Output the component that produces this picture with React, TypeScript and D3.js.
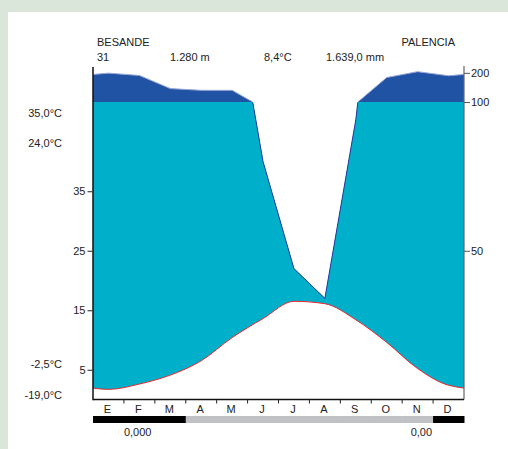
import { area, axisLeft, axisRight, curveLinear, curveMonotoneX, line, scaleLinear, select } from "d3";
import { useEffect, useRef } from "react";

const months = ["E", "F", "M", "A", "M", "J", "J", "A", "S", "O", "N", "D"];
const temperature = [1.7, 2.6, 4.1, 6.5, 10.4, 13.6, 16.5, 16.1, 13.4, 9.6, 5.2, 2.4];
const precipitation = [199, 191, 146, 140, 140, 80, 44, 34, 94, 184, 204, 190];
// 2 = helada segura (negro), 1 = helada probable (gris)
const frost = [2, 2, 2, 1, 1, 1, 1, 1, 1, 1, 1, 2];
const tempTicks = [5, 15, 25, 35];
const precipTicks = [50, 100, 200];
const headerLeft = ["BESANDE", "31", "1.280 m"];
const headerRight = ["PALENCIA", "8,4°C", "1.639,0 mm"];
const sideLabels = ["35,0°C", "24,0°C", "-2,5°C", "-19,0°C"];
const frostLabels = ["0,000", "0,00"];

const W = 508;
const H = 449;
const plot = { left: 93, right: 464, top: 67, bottom: 399.5 };
const FONT = "'Liberation Sans', Arial, sans-serif";

const x = scaleLinear().domain([0, 12]).range([plot.left, plot.right]);
const tY = scaleLinear().domain([0, 50]).range([plot.bottom, 102]);
const pY = scaleLinear().domain([0, 100, 220]).range([plot.bottom, 102, plot.top]);

// wrap december / january so the curves run to the plot edges
const wrap = (v: number[]) => [v[v.length - 1], ...v, v[0]];
const cx = (i: number) => x(i - 0.5);

const precipPoints = (() => {
  const v = wrap(precipitation);
  const pts: [number, number][] = [];
  for (let i = 0; i < v.length; i++) {
    pts.push([cx(i), v[i]]);
    if (i < v.length - 1 && (v[i] - 100) * (v[i + 1] - 100) < 0) {
      const t = (100 - v[i]) / (v[i + 1] - v[i]);
      pts.push([cx(i) + t * (cx(i + 1) - cx(i)), 100]);
    }
  }
  return pts;
})();
const tempPoints: [number, number][] = wrap(temperature).map((d, i) => [cx(i), d]);

const Axis = ({ kind, transform }: { kind: "left" | "right"; transform: string }) => {
  const ref = useRef<SVGGElement>(null);
  useEffect(() => {
    if (!ref.current) return;
    const ax =
      kind === "left"
        ? axisLeft(tY).tickValues(tempTicks).tickSize(5).tickSizeOuter(0).tickPadding(2)
        : axisRight(pY).tickValues(precipTicks).tickSize(6).tickSizeOuter(0).tickPadding(1);
    const g = select(ref.current).call(ax);
    g.select(".domain").remove();
    g.selectAll("text").style("font-family", FONT).style("font-size", "11px").attr("fill", "#222");
    g.selectAll("line").attr("stroke", kind === "left" ? "#222" : "#555");
  }, [kind]);
  return <g ref={ref} transform={transform} />;
};

const App = () => {
  const darkArea = area<[number, number]>()
    .curve(curveLinear)
    .x((d) => d[0])
    .y0(plot.bottom)
    .y1((d) => pY(d[1]));
  const wetArea = area<[number, number]>()
    .curve(curveLinear)
    .x((d) => d[0])
    .y0(plot.bottom)
    .y1((d) => pY(Math.min(d[1], 100)));
  const tempArea = area<[number, number]>()
    .curve(curveMonotoneX)
    .x((d) => d[0])
    .y0(plot.bottom)
    .y1((d) => tY(d[1]));
  const tempLine = line<[number, number]>()
    .curve(curveMonotoneX)
    .x((d) => d[0])
    .y((d) => tY(d[1]));
  const precipLine = line<[number, number]>()
    .x((d) => d[0])
    .y((d) => pY(d[1]));

  const step = x(1) - x(0);

  return (
    <svg width={W} height={H} style={{ position: "absolute", left: 0, top: 0 }} fontFamily={FONT}>
      <defs>
        <clipPath id="plotClip">
          <rect x={plot.left} y={plot.top - 5} width={plot.right - plot.left} height={plot.bottom - plot.top + 5} />
        </clipPath>
        <clipPath id="lowClip">
          <rect x={plot.left} y={102.5} width={plot.right - plot.left} height={plot.bottom - 102.5} />
        </clipPath>
        <clipPath id="highClip">
          <rect x={plot.left} y={plot.top - 5} width={plot.right - plot.left} height={102 - plot.top + 4} />
        </clipPath>
      </defs>
      <rect width={W} height={H} fill="#dbe6db" />
      <rect x={8} y={12} width={W - 8} height={H - 12} fill="#ffffff" />

      <g clipPath="url(#plotClip)">
        <path d={darkArea(precipPoints) ?? ""} fill="#2153a4" />
        <path d={wetArea(precipPoints) ?? ""} fill="#00afc9" />
        <path d={tempArea(tempPoints) ?? ""} fill="#ffffff" />
        <path d={precipLine(precipPoints) ?? ""} fill="none" stroke="#98a6d8" strokeWidth={1} clipPath="url(#highClip)" />
        <path d={precipLine(precipPoints) ?? ""} fill="none" stroke="#2a3a9c" strokeWidth={1} clipPath="url(#lowClip)" />
        <path d={tempLine(tempPoints) ?? ""} fill="none" stroke="#e8262f" strokeWidth={1} />
      </g>

      {/* axes */}
      <line x1={plot.right} x2={plot.right} y1={plot.top - 1} y2={plot.bottom} stroke="#666" strokeWidth={1.2} />
      <line x1={plot.left} x2={plot.left} y1={plot.top} y2={plot.bottom + 0.75} stroke="#111" strokeWidth={1.5} />
      <line x1={plot.left} x2={plot.right} y1={plot.bottom} y2={plot.bottom} stroke="#111" strokeWidth={1.5} />
      <Axis kind="left" transform={`translate(${plot.left - 0.5},0)`} />
      <Axis kind="right" transform={`translate(${plot.right},0)`} />

      {months.map((m, i) => (
        <g key={`m-${i}`}>
          {i > 0 && (
            <line x1={x(i)} x2={x(i)} y1={plot.bottom} y2={plot.bottom + 4} stroke="#222" strokeWidth={1} />
          )}
          <text x={x(i + 0.5) - 1} y={413} fontSize={11} textAnchor="middle" fill="#222">
            {m}
          </text>
        </g>
      ))}

      {/* frost bar */}
      {frost.map((f, i) => (
        <rect
          key={`f-${i}`}
          x={x(i)}
          y={416}
          width={step + 0.5}
          height={7}
          fill={f === 2 ? "#000000" : "#bfc1c4"}
        />
      ))}
      <text x={x(1)} y={436} fontSize={11} fill="#222">
        {frostLabels[0]}
      </text>
      <text x={x(11) - 1} y={436} fontSize={11} fill="#222" textAnchor="end">
        {frostLabels[1]}
      </text>

      {/* header */}
      <text x={97} y={46} fontSize={11} fill="#222">{headerLeft[0]}</text>
      <text x={97} y={61} fontSize={11} fill="#222">{headerLeft[1]}</text>
      <text x={170} y={61} fontSize={11} fill="#222">{headerLeft[2]}</text>
      <text x={455} y={46} fontSize={11} fill="#222" textAnchor="end">{headerRight[0]}</text>
      <text x={264} y={61} fontSize={11} fill="#222">{headerRight[1]}</text>
      <text x={326} y={61} fontSize={11} fill="#222">{headerRight[2]}</text>

      {/* extreme values on the left */}
      {sideLabels.map((s, i) => (
        <text key={`s-${i}`} x={62} y={[117, 147, 368, 399][i]} fontSize={11} fill="#222" textAnchor="end">
          {s}
        </text>
      ))}
    </svg>
  );
};

export default App;
